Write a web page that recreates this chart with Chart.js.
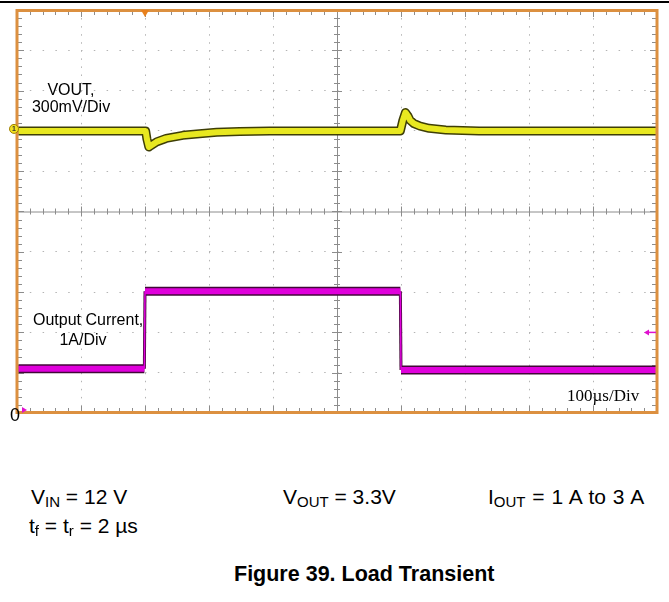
<!DOCTYPE html>
<html>
<head>
<meta charset="utf-8">
<script src="https://cdn.jsdelivr.net/npm/chart.js@4/dist/chart.umd.min.js"></script>
<style>
body { margin: 0; background: #fff; width: 669px; height: 602px; position: relative; overflow: hidden;
       font-family: "Liberation Sans", Arial, sans-serif; color: #000; }
#topline { position: absolute; left: 0; top: 1px; width: 669px; height: 2px; background: #000; }
#scope { position: absolute; left: 0; top: 0; }
.lbl { position: absolute; white-space: nowrap; }
.note { font-size: 21px; line-height: 21px; }
.sub { font-size: 15px; position: relative; top: 3px; }
</style>
</head>
<body>
<div id="topline"></div>
<canvas id="scope" width="669" height="430"></canvas>

<div class="lbl" style="left:21px;top:81px;width:100px;text-align:center;font-size:16px;line-height:17px">VOUT,<br>300mV/Div</div>
<div class="lbl" style="left:33px;top:310px;width:100px;text-align:center;font-size:16px;line-height:20px">Output Current,<br>1A/Div</div>
<div class="lbl" style="left:567px;top:387px;font-family:'Liberation Serif',serif;font-size:17px;line-height:17px">100µs/Div</div>
<div class="lbl" style="left:10px;top:406px;font-size:18px;line-height:18px">0</div>

<div class="lbl note" style="left:31px;top:486px">V<span class="sub">IN</span> = 12 V</div>
<div class="lbl note" style="left:283px;top:486px">V<span class="sub">OUT</span> = 3.3V</div>
<div class="lbl note" style="left:488px;top:486px;word-spacing:1px">I<span class="sub">OUT</span> = 1 A to 3 A</div>
<div class="lbl note" style="left:29px;top:515px">t<span class="sub">f</span> = t<span class="sub">r</span> = 2 µs</div>
<div class="lbl" style="left:234px;top:564px;font-size:21.5px;line-height:21px;font-weight:bold">Figure 39. Load Transient</div>

<script>
// time base: 100 us/div, 10 div
const timeRange = [0, 1000];
const timeStep = 100;
// channel 1: VOUT deviation (mV), 300 mV/div, trace zero sits 7 div up
const voutRange = [-2100, 900];
const timeV = [2, 199, 201, 203, 206, 209, 218, 233, 259, 285, 312, 348, 395,
               599, 603, 607, 611, 614, 620, 630, 644, 670, 722, 1000];
const voutMv = [0, 0, 0, -60, -120, -110, -82, -56, -33, -21, -10, -4, 0,
                0, 80, 137, 110, 80, 55, 35, 19, 7, 0, 0];
// channel 2: output current (A), 1 A/div, zero at the bottom edge
const currentRange = [0, 10];
const timeI = [2, 199, 200, 599, 600, 1000];
const currentA = [1.1, 1.1, 3.02, 3.02, 1.07, 1.07];
const triggerTime = 200;
const triggerLevel = 2;

const toPts = (xs, ys) => xs.map((t, i) => ({ x: t, y: ys[i] }));
const voutPts = toPts(timeV, voutMv);
const currentPts = toPts(timeI, currentA);

// vertical edges of the current step are thin on the scope
const steep = (ctx, thin, thick) =>
    Math.abs(ctx.p1.y - ctx.p0.y) > 3 * Math.abs(ctx.p1.x - ctx.p0.x) ? thin : thick;

const graticule = {
    id: 'graticule',
    beforeDatasetsDraw(chart) {
        const { ctx, chartArea: a, scales: { x, y } } = chart;
        const cx = x.getPixelForValue(500);
        const cy = y.getPixelForValue(5);
        ctx.save();
        ctx.strokeStyle = '#8c8c8c';
        ctx.lineWidth = 1;
        ctx.beginPath();
        ctx.moveTo(a.left, cy + 0.5); ctx.lineTo(a.right, cy + 0.5);
        ctx.moveTo(cx + 0.5, a.top); ctx.lineTo(cx + 0.5, a.bottom);
        // minor ticks, 5 per division
        for (let t = 0; t <= 1000; t += 20) {
            const px = Math.round(x.getPixelForValue(t)) + 0.5;
            const big = t % 100 === 0 ? 2 : 0;
            ctx.moveTo(px, cy - 3 - big); ctx.lineTo(px, cy + 3 + big);
            ctx.moveTo(px, a.top); ctx.lineTo(px, a.top + 5 + big);
            ctx.moveTo(px, a.bottom); ctx.lineTo(px, a.bottom - 5 - big);
        }
        for (let v = 0; v <= 10; v += 0.2) {
            const py = Math.round(y.getPixelForValue(v)) + 0.5;
            const big = Math.abs(v - Math.round(v)) < 0.01 ? 2 : 0;
            ctx.moveTo(cx - 3 - big, py); ctx.lineTo(cx + 3 + big, py);
            ctx.moveTo(a.left, py); ctx.lineTo(a.left + 5 + big, py);
            ctx.moveTo(a.right, py); ctx.lineTo(a.right - 5 - big, py);
        }
        ctx.stroke();
        ctx.restore();
    },
    afterDatasetsDraw(chart) {
        const { ctx, chartArea: a, scales: { x, y, yv } } = chart;
        ctx.save();
        // frame
        ctx.strokeStyle = '#dc9040';
        ctx.lineWidth = 3;
        ctx.strokeRect(a.left, a.top + 0.5, a.right - a.left, a.bottom - a.top - 1);
        // trigger position
        const tx = x.getPixelForValue(triggerTime);
        ctx.fillStyle = '#e8801c';
        ctx.beginPath();
        ctx.moveTo(tx - 4, a.top); ctx.lineTo(tx + 4, a.top); ctx.lineTo(tx, a.top + 7);
        ctx.fill();
        // channel 1 reference marker
        const c1 = yv.getPixelForValue(0) - 2;
        ctx.fillStyle = '#f0e020';
        ctx.strokeStyle = '#a08000';
        ctx.lineWidth = 1;
        ctx.beginPath();
        ctx.arc(a.left - 3, c1, 4.5, 0, Math.PI * 2);
        ctx.fill(); ctx.stroke();
        ctx.fillStyle = '#333';
        ctx.font = 'bold 7px "Liberation Sans"';
        ctx.textAlign = 'center';
        ctx.textBaseline = 'middle';
        ctx.fillText('1', a.left - 3, c1 + 0.5);
        // channel 2 reference marker
        const c2 = y.getPixelForValue(0) - 3;
        ctx.fillStyle = '#e010d0';
        ctx.beginPath();
        ctx.moveTo(a.left + 5, c2 - 3); ctx.lineTo(a.left + 10, c2); ctx.lineTo(a.left + 5, c2 + 3);
        ctx.fill();
        // trigger level arrow
        const ty = y.getPixelForValue(triggerLevel);
        ctx.strokeStyle = '#e010d0';
        ctx.lineWidth = 1.5;
        ctx.beginPath();
        ctx.moveTo(a.right - 1, ty); ctx.lineTo(a.right - 11, ty);
        ctx.stroke();
        ctx.beginPath();
        ctx.moveTo(a.right - 13, ty); ctx.lineTo(a.right - 8, ty - 3); ctx.lineTo(a.right - 8, ty + 3);
        ctx.fill();
        ctx.restore();
    }
};

const hideEdges = (edges) => (c) =>
    c.tick && edges.some(e => Math.abs(c.tick.value - e) < 1e-6) ? 'rgba(0,0,0,0)' : '#b4b4b4';

new Chart(document.getElementById('scope').getContext('2d'), {
    type: 'line',
    data: {
        datasets: [
            // higher order is drawn first: dark noise band under the bright trace
            { data: voutPts, yAxisID: 'yv', borderColor: '#3e3e06', borderWidth: 9, order: 2 },
            { data: voutPts, yAxisID: 'yv', borderColor: '#e8e820', borderWidth: 6, order: 1 },
            { data: currentPts, yAxisID: 'y', borderColor: '#420838', borderWidth: 9, order: 2,
              segment: { borderWidth: c => steep(c, 3, 9) } },
            { data: currentPts, yAxisID: 'y', borderColor: '#e000dc', borderWidth: 6, order: 1,
              segment: { borderWidth: c => steep(c, 1.5, 6) } }
        ]
    },
    options: {
        responsive: false,
        animation: false,
        layout: { padding: { left: 17, top: 10, right: 12, bottom: 17 } },
        elements: { point: { radius: 0 }, line: { tension: 0, borderJoinStyle: 'round' } },
        plugins: { legend: { display: false }, tooltip: { enabled: false } },
        scales: {
            x: {
                type: 'linear', min: timeRange[0], max: timeRange[1],
                ticks: { display: false, stepSize: timeStep },
                grid: { color: hideEdges([0, 500, 1000]), drawTicks: false, lineWidth: 1 },
                border: { display: false, dash: [1.5, 6.56] }
            },
            y: {
                min: currentRange[0], max: currentRange[1],
                ticks: { display: false, stepSize: 1 },
                grid: { color: hideEdges([0, 5, 10]), drawTicks: false, lineWidth: 1 },
                border: { display: false, dash: [1.5, 11.3] }
            },
            yv: {
                display: false, min: voutRange[0], max: voutRange[1]
            }
        }
    },
    plugins: [graticule]
});
</script>
</body>
</html>
